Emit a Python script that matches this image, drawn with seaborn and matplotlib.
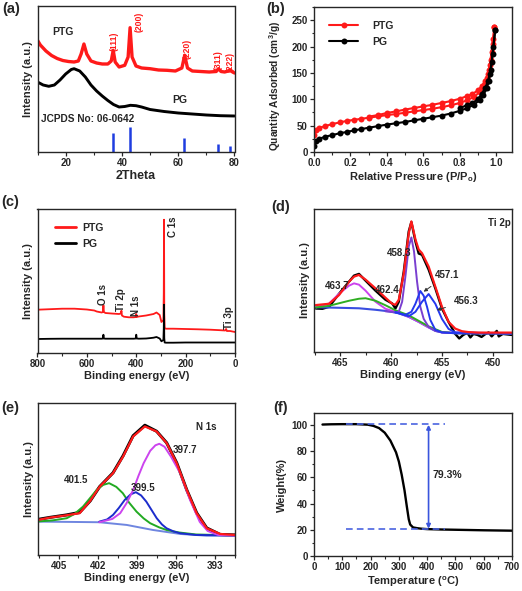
import matplotlib
matplotlib.use("Agg")
import matplotlib.pyplot as plt
from matplotlib.ticker import MultipleLocator, NullLocator
import seaborn as sns

sns.set_style("ticks")
plt.rcParams['font.family'] = ['Liberation Sans', 'DejaVu Sans']
plt.rcParams['font.weight'] = 'bold'
plt.rcParams['axes.labelweight'] = 'bold'

RED = '#ff1a1a'
BLUE = '#1f3de0'

# ---------------- (a) XRD ----------------
xrd_theta_ptg = [10, 11, 13, 15, 17, 19, 21, 23, 24.5, 25.5, 26.5, 27.5, 29, 31, 33, 35, 36.2, 36.9,
                 37.6, 39, 41, 42.2, 42.9, 43.6, 45, 47, 50, 53, 56, 59, 61.3, 62.3, 63.3, 65, 68, 71,
                 73.5, 74.3, 75.2, 76.5, 77.8, 78.5, 79.3, 80]
xrd_ptg = [111.7, 107, 101, 96.5, 93.5, 91.5, 90.5, 90, 91, 98, 108, 98, 91, 89, 88, 88, 91, 101.7,
           90, 85, 86.7, 95, 124.3, 95, 86, 84, 83.3, 82, 81.7, 81, 84, 96.7, 84, 81, 80.5, 80,
           80.5, 83.3, 80.5, 80, 81, 82.3, 80, 79]
xrd_theta_pg = [10, 12, 14, 16, 18, 20, 22, 23, 25, 27, 29, 31, 33, 35, 37, 39, 41, 43, 45, 47, 50,
                55, 60, 65, 70, 75, 80]
xrd_pg = [70, 67, 65.7, 67, 72, 78, 82.5, 83.3, 81, 75, 67, 61, 56, 51.5, 47.5, 45, 45.5, 46.7, 46.3,
          45, 42.5, 40.5, 39, 38, 37, 36.3, 36]
jcpds_theta = [36.9, 42.8, 62.2, 74.3, 78.3]
jcpds_height = [19, 24.7, 14.3, 7.7, 5.7]
hkl_labels = ['(111)', '(200)', '(220)', '(311)', '(222)']
hkl_x = [37.1, 46.1, 63.2, 74.3, 78.4]
hkl_y = [111, 130, 103, 91.7, 90]

# ---------------- (b) N2 isotherms ----------------
bet_ptg_ads_p = [0.002, 0.01, 0.03, 0.06, 0.1, 0.14, 0.18, 0.22, 0.26, 0.3, 0.35, 0.4, 0.45, 0.5, 0.55,
                 0.6, 0.65, 0.7, 0.75, 0.8, 0.84, 0.88, 0.91, 0.93, 0.95, 0.96, 0.97, 0.98, 0.99]
bet_ptg_ads = [32, 42, 46, 49, 53, 56, 59, 61, 63, 65, 67.5, 70, 72, 74.5, 77, 79.5, 82, 85, 88.5, 93,
               98, 105, 114, 124, 140, 155, 175, 205, 237]
bet_ptg_des_p = [0.99, 0.985, 0.975, 0.965, 0.955, 0.94, 0.92, 0.9, 0.87, 0.84, 0.8, 0.75, 0.7, 0.65,
                 0.6, 0.55, 0.5, 0.45, 0.4, 0.35, 0.3]
bet_ptg_des = [237, 215, 190, 165, 148, 135, 125, 117, 110, 106, 101, 96.5, 93, 89.5, 86.5, 83.5,
               80.5, 77, 74, 70, 67]
bet_pg_ads_p = [0.002, 0.01, 0.03, 0.06, 0.1, 0.14, 0.18, 0.22, 0.26, 0.3, 0.35, 0.4, 0.45, 0.5, 0.55,
                0.6, 0.65, 0.7, 0.75, 0.8, 0.84, 0.88, 0.91, 0.93, 0.95, 0.96, 0.97, 0.98, 0.995]
bet_pg_ads = [12, 20, 25, 29, 32, 35.5, 38, 41, 43.5, 46, 49, 52, 54.5, 57, 60, 63, 66, 69, 73, 78,
              83, 90, 99, 108, 122, 135, 155, 185, 232]
bet_pg_des_p = [0.995, 0.985, 0.975, 0.965, 0.955, 0.94, 0.92, 0.9, 0.87, 0.84, 0.8]
bet_pg_des = [232, 200, 170, 148, 135, 122, 110, 100, 93, 89, 83]

# ---------------- (c) XPS survey ----------------
sv_be = [800, 750, 700, 650, 600, 570, 560, 540, 535, 533, 531, 525, 500, 470, 462, 460, 458, 450,
         430, 410, 402, 400, 398, 390, 360, 340, 330, 318, 305, 298, 290, 288.5, 287.5, 286.5, 285,
         280, 250, 200, 150, 100, 60, 40, 36, 33, 20, 0]
sv_ptg = [43.3, 43.8, 44.3, 44.3, 43.5, 42.5, 41.5, 40.5, 41, 47.7, 41, 40, 39.5, 39, 39.5, 42.3, 37.5,
          36.3, 35.7, 35.7, 36, 39, 36, 36.5, 37.5, 38.5, 39, 40.5, 38, 31, 33, 60, 133.3, 40, 25,
          24.3, 24.3, 24, 23.7, 23.3, 22.8, 22.5, 24, 22, 22, 21]
sv_pg = [14, 14.2, 14.3, 14.3, 14.3, 14.3, 14.3, 14.3, 14.5, 18.3, 14.5, 14.3, 14.3, 14.3, 14.3, 14.3,
         14.3, 14.3, 14.3, 14.3, 14.5, 18.3, 14.5, 14.3, 14.5, 15, 15.3, 16, 14.5, 11.7, 13, 25, 48.3,
         15, 10.5, 10.3, 10.3, 10.5, 10.5, 10.5, 10.5, 10.5, 10.5, 10.5, 10.5, 10.5]
sv_labels = ['O 1s', 'Ti 2p', 'N 1s', 'C 1s', 'Ti 3p']
sv_label_x = [536, 461, 400, 251, 23]
sv_label_y = [58.3, 53.3, 47.7, 126, 35.7]

# ---------------- (d) Ti 2p ----------------
ti_be = [467.42, 466.77, 466.11, 465.13, 464.15, 463.66, 463.17, 462.52, 461.54, 460.56, 459.9, 459.58,
         459.25, 458.76, 458.27, 458.01, 457.61, 457.29, 456.96, 456.31, 455.65, 455.0, 454.35, 453.69,
         453.3, 452.9, 452.5, 452.2, 451.9, 451.5, 451.1, 450.7, 450.4, 450.1, 449.6, 449.4, 449.0, 448.14]
ti_raw = [43.3, 43, 45, 58, 70, 76, 77.7, 71, 61, 52, 48.3, 43.3, 50, 80, 120, 129.3, 110, 98, 96.7,
          82, 63.3, 43.3, 30, 18, 13.5, 17, 19, 14.5, 18, 17, 15, 18, 19.5, 15.5, 21, 15.5, 18, 17]
ti_fit_be = [467.42, 466.11, 465.13, 464.15, 463.66, 463.17, 462.52, 461.54, 460.56, 459.9, 459.58,
             459.25, 458.76, 458.27, 458.01, 457.61, 457.29, 456.96, 456.31, 455.65, 455.0, 454.35,
             453.69, 453.04, 452.39, 451.4, 448.14]
ti_fit = [46.7, 48, 56.7, 70, 75, 76.7, 72, 63.3, 54, 48, 47, 52, 78, 118, 130, 112, 102, 98.3, 85,
          65, 45, 30, 23.3, 20.7, 19.8, 19.3, 19.3]
ti_bg_be = [467.42, 465.13, 463.17, 461.54, 460.23, 459.25, 458.27, 457.29, 456.31, 455.65, 455.0,
            453.69, 448.14]
ti_bg = [44.5, 44, 43.5, 42, 40.5, 38.5, 35, 30, 24.5, 21, 19.5, 18.7, 18.5]
ti_p1_be = [467.42, 466.11, 465.13, 464.15, 463.66, 463.17, 462.52, 461.54, 460.56, 459.58, 458.27,
            457.29, 456.31, 455.0, 448.14]
ti_p1 = [44.3, 48.3, 58, 66, 68.3, 67, 61, 50, 43, 40, 35, 30, 24.5, 19.5, 18.5]
ti_p2_be = [467.42, 466.11, 465.13, 464.15, 463.17, 462.52, 461.54, 460.56, 459.58, 458.27, 457.29,
            456.31, 455.0, 453.69, 448.14]
ti_p2 = [44.3, 46, 48.5, 51, 53, 53.5, 51, 46.5, 41.5, 36.5, 31, 25.5, 20, 18.7, 18.5]
ti_p3_be = [460.56, 459.58, 459.25, 458.92, 458.6, 458.27, 458.01, 457.75, 457.45, 457.13, 456.8,
            456.31, 455.65, 455.0, 453.69, 448.14]
ti_p3 = [40.5, 39.5, 40, 50, 75, 105, 114, 100, 70, 45, 33, 25, 21, 19.5, 18.7, 18.5]
ti_p4_be = [459.58, 458.6, 458.01, 457.61, 457.13, 456.8, 456.47, 456.15, 455.65, 455.0, 453.69, 448.14]
ti_p4 = [39.5, 37, 40, 48, 60.7, 56, 45, 32, 22, 19.5, 18.7, 18.5]
ti_p5_be = [459.58, 458.27, 457.61, 456.96, 456.31, 455.65, 455.0, 454.35, 453.69, 448.14]
ti_p5 = [39.5, 35.5, 40, 50, 57.7, 48, 33, 23, 19.5, 18.5]

# ---------------- (e) N 1s ----------------
n_be = [406.6, 405.7, 404.4, 403.41, 402.6, 401.87, 400.85, 400.08, 399.31, 398.41, 397.51, 396.74,
        395.97, 395.2, 394.44, 393.67, 392.64, 391.5]
n_raw = [35.5, 37.5, 40, 42.5, 54, 68.3, 82, 99, 119, 129.5, 123.5, 112, 92, 65, 42, 27, 20.5, 20]
n_fit = [35, 37.3, 39.7, 41.7, 54, 68.3, 81.7, 98.3, 118.3, 128.3, 123.3, 111.7, 91.7, 65, 41.7,
         26.7, 21, 20]
n_green_be = [406.6, 405.5, 404.4, 403.8, 403.15, 402.6, 402.1, 401.6, 401.15, 400.6, 400.1, 399.6,
              399.05, 398.5, 398.0, 397.3, 396.75, 395.8, 394.5, 391.5]
n_green = [33.5, 34.5, 36.7, 41, 48.3, 57, 65, 70, 71.7, 68, 61.7, 52, 43.3, 36.5, 31.7, 27.5, 25,
           22.5, 20.5, 19.5]
n_blue_be = [401.9, 401.3, 400.85, 400.4, 399.95, 399.5, 399.1, 398.7, 398.3, 397.9, 397.5, 397.1,
             396.75, 396.2, 395.7, 394.5, 391.5]
n_blue = [33.3, 35.5, 40, 47, 55, 60.5, 62.7, 59.5, 53.3, 45, 36.7, 30.5, 26.7, 23.5, 21.7, 20, 19.5]
n_mag_be = [401.9, 400.9, 400.3, 399.8, 399.3, 398.9, 398.5, 398.0, 397.6, 397.3, 396.9, 396.4, 395.7,
            394.95, 394.2, 393.6, 392.8, 391.5]
n_mag = [32.7, 36, 41.7, 52, 65, 79, 91.7, 104, 109.5, 111, 108, 98, 81.7, 55, 33, 24, 20, 19.3]
n_bg_be = [406.6, 404, 401.9, 399.8, 397.8, 395.7, 393.7, 391.5]
n_bg = [33.3, 33, 32.7, 30, 25, 21, 19.3, 19.3]

# ---------------- (f) TGA ----------------
tga_t = [30, 60, 100, 150, 190, 210, 230, 250, 270, 290, 300, 310, 320, 328, 335, 340, 350, 365, 380,
         400, 450, 500, 600, 700]
tga_w = [100.2, 100.4, 100.5, 100.5, 100.1, 99.2, 97.5, 94, 88, 79, 72, 62, 50, 38, 28, 24, 21.8,
         21.2, 20.8, 20.5, 20.2, 20, 19.6, 19.3]

fig = plt.figure(figsize=(5.22, 5.91), dpi=100)
W, H = 522, 591
TXT = 7


def add_ax(l, t, r, b):
    return fig.add_axes([l / W, 1 - b / H, (r - l) / W, (b - t) / H])


def curve(ax, x, y, color, lw=1.5, **kw):
    sns.lineplot(x=x, y=y, ax=ax, color=color, linewidth=lw, estimator=None, sort=False, **kw)


def style(ax, xlabel, ylabel, yticks=False, xsize=8, ysize=8):
    ax.set_xlabel(xlabel, fontsize=xsize, fontweight='bold', labelpad=1.5)
    ax.set_ylabel(ylabel, fontsize=ysize, fontweight='bold', labelpad=3)
    ax.tick_params(which='major', direction='out', length=3, width=0.9, labelsize=7, pad=1.5)
    ax.tick_params(which='minor', direction='out', length=1.8, width=0.8)
    for lab in ax.get_xticklabels() + ax.get_yticklabels():
        lab.set_fontweight('bold')
    for s in ax.spines.values():
        s.set_visible(True)
        s.set_linewidth(1.0)
    if not yticks:
        ax.yaxis.set_major_locator(NullLocator())
        ax.yaxis.set_minor_locator(NullLocator())


# (a)
ax = add_ax(37.5, 6, 234.5, 152)
curve(ax, xrd_theta_ptg, xrd_ptg, RED, lw=2.4)
curve(ax, xrd_theta_pg, xrd_pg, 'black', lw=2.1)
ax.vlines(jcpds_theta, 0, jcpds_height, color=BLUE, linewidth=1.8)
ax.set_xlim(10, 80)
ax.set_ylim(0, 146)
ax.xaxis.set_major_locator(MultipleLocator(20))
ax.xaxis.set_minor_locator(MultipleLocator(10))
ax.text(15.3, 120, 'PTG', fontsize=7.5, fontweight='bold', va='center')
ax.text(58, 51.7, 'PG', fontsize=7.5, fontweight='bold', va='center')
ax.text(11.3, 33, 'JCPDS No: 06-0642', fontsize=7.3, fontweight='bold', va='center')
for lab, x, y in zip(hkl_labels, hkl_x, hkl_y):
    ax.text(x, y, lab, color=RED, fontsize=6.2, rotation=90, ha='center', va='center')
style(ax, '2Theta', 'Intensity (a.u.)', xsize=9)

# (b)
ax = add_ax(314, 7, 512, 152)
mk = dict(marker='o', markersize=4.3, markeredgewidth=0)
curve(ax, bet_ptg_ads_p, bet_ptg_ads, RED, lw=1.5, label='PTG', **mk)
curve(ax, bet_ptg_des_p, bet_ptg_des, RED, lw=1.5, **mk)
curve(ax, bet_pg_ads_p, bet_pg_ads, 'black', lw=1.5, label='PG', **mk)
curve(ax, bet_pg_des_p, bet_pg_des, 'black', lw=1.5, **mk)
ax.set_xlim(0, 1.087)
ax.set_ylim(0, 275)
ax.xaxis.set_major_locator(MultipleLocator(0.2))
ax.xaxis.set_minor_locator(MultipleLocator(0.1))
ax.yaxis.set_major_locator(MultipleLocator(50))
ax.yaxis.set_minor_locator(MultipleLocator(25))
ax.xaxis.set_major_formatter(matplotlib.ticker.FormatStrFormatter('%.1f'))
ax.legend(loc='upper left', bbox_to_anchor=(0.03, 0.97), frameon=False, handlelength=2.8,
          handletextpad=1.3, labelspacing=0.6, prop={'size': 7.5, 'weight': 'bold'})
style(ax, 'Relative Pressure (P/P$_\\mathregular{o}$)', 'Quantity Adsorbed (cm$^\\mathregular{3}$/g)',
      yticks=True, ysize=7.3)
ax.yaxis.set_label_coords(-0.155, 0.455)

# (c)
ax = add_ax(37.5, 209, 235, 353)
curve(ax, sv_be, sv_ptg, RED, lw=1.3, label='PTG')
curve(ax, sv_be, sv_pg, 'black', lw=1.3, label='PG')
ax.set_xlim(800, 0)
ax.set_ylim(0, 144)
ax.xaxis.set_major_locator(MultipleLocator(200))
ax.xaxis.set_minor_locator(MultipleLocator(100))
for lab, x, y in zip(sv_labels, sv_label_x, sv_label_y):
    ax.text(x, y, lab, fontsize=TXT, fontweight='bold', rotation=90, ha='center', va='center')
ax.legend(loc='upper left', bbox_to_anchor=(0.04, 0.97), frameon=False, handlelength=2.0,
          handletextpad=0.6, labelspacing=0.6, prop={'size': 7.5, 'weight': 'bold'})
for ln in ax.get_legend().get_lines():
    ln.set_linewidth(2)
style(ax, 'Binding energy (eV)', 'Intensity (a.u.)')

# (d)
ax = add_ax(314, 209, 512, 352)
curve(ax, ti_be, ti_raw, 'black', lw=1.7)
curve(ax, ti_bg_be, ti_bg, '#3a4ee0', lw=1.5)
curve(ax, ti_p1_be, ti_p1, '#cc44ee', lw=1.4)
curve(ax, ti_p2_be, ti_p2, '#2fae22', lw=1.4)
curve(ax, ti_p3_be, ti_p3, '#7a3fd0', lw=1.4)
curve(ax, ti_p4_be, ti_p4, '#2438ee', lw=1.4)
curve(ax, ti_p5_be, ti_p5, '#2438ee', lw=1.4)
curve(ax, ti_fit_be, ti_fit, RED, lw=1.6)
ax.set_xlim(467.6, 448.1)
ax.set_ylim(0, 142.3)
ax.xaxis.set_major_locator(MultipleLocator(5))
ax.xaxis.set_minor_locator(MultipleLocator(2.5))
ax.text(459.2, 98.3, '458.3', fontsize=TXT, fontweight='bold', ha='center', va='center')
ax.text(465.3, 66, '463.7', fontsize=TXT, fontweight='bold', ha='center', va='center')
ax.text(460.4, 61.7, '462.4', fontsize=TXT, fontweight='bold', ha='center', va='center')
ax.text(449.3, 128, 'Ti 2p', fontsize=TXT, fontweight='bold', ha='center', va='center')
ax.annotate('457.1', xy=(456.8, 60), xytext=(454.5, 76.7), fontsize=TXT, fontweight='bold',
            ha='center', va='center',
            arrowprops=dict(arrowstyle='-|>', color='#333333', lw=0.7, mutation_scale=5,
                            shrinkA=4, shrinkB=0))
ax.annotate('456.3', xy=(455.5, 41.7), xytext=(452.6, 50.7), fontsize=TXT, fontweight='bold',
            ha='center', va='center',
            arrowprops=dict(arrowstyle='-|>', color='#333333', lw=0.7, mutation_scale=5,
                            shrinkA=4, shrinkB=0))
style(ax, 'Binding energy (eV)', 'Intensity (a.u.)')

# (e)
ax = add_ax(38, 403, 235, 555)
curve(ax, n_be, n_raw, 'black', lw=2.2)
curve(ax, n_bg_be, n_bg, '#6f86e0', lw=1.4)
curve(ax, n_green_be, n_green, '#22aa22', lw=1.4)
curve(ax, n_blue_be, n_blue, '#1c2ccc', lw=1.4)
curve(ax, n_mag_be, n_mag, '#cc44ee', lw=1.4)
curve(ax, n_be, n_fit, RED, lw=1.6)
ax.set_xlim(406.6, 391.5)
ax.set_ylim(0, 151.7)
ax.xaxis.set_major_locator(MultipleLocator(3))
ax.xaxis.set_minor_locator(MultipleLocator(1.5))
ax.text(403.67, 75, '401.5', fontsize=TXT, fontweight='bold', ha='center', va='center')
ax.text(398.54, 66.7, '399.5', fontsize=TXT, fontweight='bold', ha='center', va='center')
ax.text(395.33, 105, '397.7', fontsize=TXT, fontweight='bold', ha='center', va='center')
ax.text(393.74, 128, 'N 1s', fontsize=TXT, fontweight='bold', ha='center', va='center')
style(ax, 'Binding energy (eV)', 'Intensity (a.u.)')

# (f)
ax = add_ax(314, 413, 512, 556)
curve(ax, tga_t, tga_w, 'black', lw=1.7)
ax.hlines([100.8, 20.3], 112, 462, colors='#4a63e0', linestyles=(0, (4, 2.5)), linewidth=1.2)
ax.annotate('', xy=(405, 100), xytext=(405, 20.8),
            arrowprops=dict(arrowstyle='<|-|>', color='#3a55dd', lw=1.2, mutation_scale=6,
                            shrinkA=0, shrinkB=0))
ax.text(420, 61.4, '79.3%', fontsize=7.5, fontweight='bold', va='center')
ax.set_xlim(0, 700)
ax.set_ylim(0, 109)
ax.xaxis.set_major_locator(MultipleLocator(100))
ax.xaxis.set_minor_locator(MultipleLocator(50))
ax.yaxis.set_major_locator(MultipleLocator(20))
ax.yaxis.set_minor_locator(MultipleLocator(10))
style(ax, 'Temperature ($^\\mathregular{o}$C)', 'Weight(%)', yticks=True)

# panel letters
for lab, x, y in [('(a)', 2, 9), ('(b)', 266, 9), ('(c)', 1, 202), ('(d)', 271, 207),
                  ('(e)', 1, 408), ('(f)', 273, 408)]:
    fig.text(x / W, 1 - y / H, lab, fontsize=10.5, fontweight='bold', ha='left', va='center')

fig.savefig('out.png', dpi=100)
